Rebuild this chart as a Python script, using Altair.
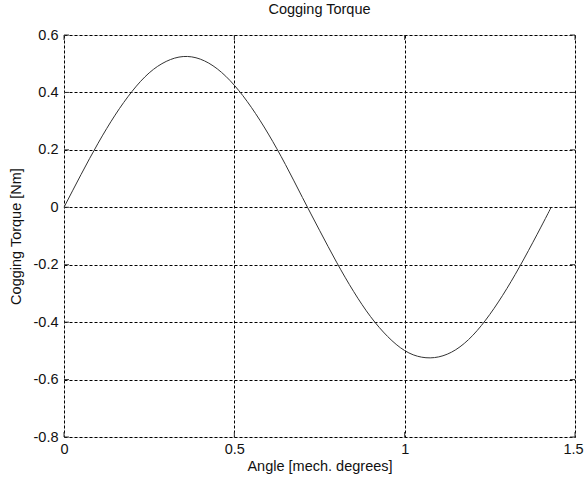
import altair as alt
import pandas as pd

# Curve values
angle = [0.00, 0.05, 0.10, 0.15, 0.20, 0.25, 0.30, 0.35, 0.40, 0.45,
         0.50, 0.55, 0.60, 0.65, 0.70, 0.75, 0.80, 0.85, 0.90, 0.95,
         1.00, 1.05, 1.10, 1.15, 1.20, 1.25, 1.30, 1.35, 1.40, 1.43]
torque = [0.000, 0.114, 0.223, 0.321, 0.404, 0.468, 0.508, 0.525, 0.516, 0.482,
          0.425, 0.348, 0.255, 0.149, 0.034, -0.080, -0.191, -0.293, -0.381, -0.450,
          -0.499, -0.522, -0.521, -0.496, -0.446, -0.373, -0.283, -0.180, -0.069, 0.000]

x_ticks = [0, 0.5, 1, 1.5]
y_ticks = [-0.8, -0.6, -0.4, -0.2, 0, 0.2, 0.4, 0.6]

W, H = 511, 402
FONT = "Liberation Sans"
FS = 14.5

df = pd.DataFrame({"angle": angle, "torque": torque})
xt = pd.DataFrame({"v": x_ticks})
yt = pd.DataFrame({"v": y_ticks})

xscale = alt.Scale(domain=[0, 1.5], nice=False, zero=False)
yscale = alt.Scale(domain=[-0.8, 0.6], nice=False, zero=False)

label_expr = "datum.value < 0 ? '-' + format(-datum.value, '~g') : format(datum.value, '~g')"
grid_style = dict(gridColor="#000000", gridDash=[3, 2], gridOpacity=1, gridWidth=1)
common = dict(grid=True, tickSize=0, domain=False, labelFontSize=FS, titleFontSize=FS,
              labelFont=FONT, titleFont=FONT, labelColor="#111", titleColor="#111",
              titleFontWeight="normal", labelFlush=False, labelExpr=label_expr,
              **grid_style)

line = alt.Chart(df).mark_line(color="#333333", strokeWidth=1, interpolate="natural").encode(
    x=alt.X("angle:Q", scale=xscale,
            axis=alt.Axis(values=x_ticks, title="Angle [mech. degrees]",
                          labelPadding=5, titlePadding=4,
                          labelOffset={"condition": {"test": "datum.value >= 1.5", "value": -2},
                                       "value": 0},
                          **common)),
    y=alt.Y("torque:Q", scale=yscale,
            axis=alt.Axis(values=y_ticks, title="Cogging Torque [Nm]",
                          labelPadding=6, titlePadding=10, **common)),
)

tick_len = 5
tick_color = "#333333"
bottom_ticks = alt.Chart(xt).mark_rule(color=tick_color, strokeWidth=1).encode(
    x=alt.X("v:Q", scale=xscale), y=alt.value(H), y2=alt.value(H - tick_len))
top_ticks = alt.Chart(xt).mark_rule(color=tick_color, strokeWidth=1).encode(
    x=alt.X("v:Q", scale=xscale), y=alt.value(0), y2=alt.value(tick_len))
left_ticks = alt.Chart(yt).mark_rule(color=tick_color, strokeWidth=1).encode(
    y=alt.Y("v:Q", scale=yscale), x=alt.value(0), x2=alt.value(tick_len))
right_ticks = alt.Chart(yt).mark_rule(color=tick_color, strokeWidth=1).encode(
    y=alt.Y("v:Q", scale=yscale), x=alt.value(W), x2=alt.value(W - tick_len))

chart = alt.layer(line, bottom_ticks, top_ticks, left_ticks, right_ticks).properties(
    width=W, height=H,
    title=alt.TitleParams("Cogging Torque", fontSize=FS, font=FONT, fontWeight="normal",
                          color="#111", anchor="middle", offset=10),
    autosize=alt.AutoSizeParams(type="none"),
    padding={"left": 64, "top": 35, "right": 9, "bottom": 44},
).configure_view(stroke="#555555", strokeWidth=1.5).configure(background="white")

chart.save("out.html", embed_options={"renderer": "svg", "actions": False})
